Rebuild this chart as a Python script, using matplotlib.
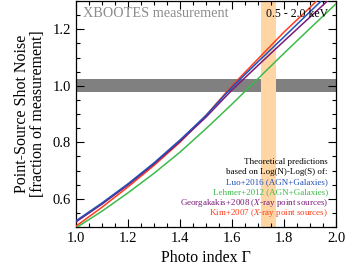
import numpy as np
import matplotlib
matplotlib.use('Agg')
import matplotlib.pyplot as plt
from matplotlib.ticker import MultipleLocator

plt.rcParams['font.family'] = ['Liberation Serif', 'DejaVu Serif']
plt.rcParams['mathtext.fontset'] = 'stix'

# photon index grid and predicted shot noise (fraction of measurement)
gamma = [1.0, 1.1, 1.2, 1.3, 1.4, 1.5, 1.6, 1.7, 1.8, 1.9, 2.0]
luo = [0.522, 0.585, 0.653, 0.727, 0.808, 0.895, 0.995, 1.085, 1.173, 1.262, 1.350]
lehmer = [0.497, 0.556, 0.621, 0.690, 0.765, 0.848, 0.935, 1.025, 1.115, 1.203, 1.290]
georgakakis = [0.518, 0.581, 0.649, 0.723, 0.803, 0.889, 0.985, 1.072, 1.158, 1.243, 1.328]
kim = [0.503, 0.570, 0.642, 0.718, 0.800, 0.895, 1.000, 1.095, 1.190, 1.277, 1.370]

meas_lo, meas_hi = 0.977, 1.023
gamma_lo, gamma_hi = 1.71, 1.77

c_luo = '#2050b8'
c_lehmer = '#3dba4a'
c_geo = '#7a1a7a'
c_kim = '#ff3d1c'

fig = plt.figure(figsize=(3.46, 2.77), dpi=100)
ax = fig.add_axes([76/346, 1-227/277, 260/346, 226/277])

ax.axhspan(meas_lo, meas_hi, color='#808080', lw=0, zorder=1)
ax.axvspan(gamma_lo, gamma_hi, color='#ffd6a3', lw=0, zorder=1)

ax.plot(gamma, kim, color=c_kim, lw=1.1, zorder=3)
ax.plot(gamma, lehmer, color=c_lehmer, lw=1.1, zorder=3)
ax.plot(gamma, georgakakis, color=c_geo, lw=1.1, zorder=3)
ax.plot(gamma, luo, color=c_luo, lw=1.1, zorder=4)

ax.set_xlim(1.0, 2.0)
ax.set_ylim(0.5, 1.3)
ax.xaxis.set_major_locator(MultipleLocator(0.2))
ax.xaxis.set_minor_locator(MultipleLocator(0.05))
ax.yaxis.set_major_locator(MultipleLocator(0.2))
ax.yaxis.set_minor_locator(MultipleLocator(0.05))
ax.tick_params(which='both', direction='in', top=True, right=True, width=0.8)
ax.tick_params(which='major', length=6, labelsize=10.5)
ax.tick_params(which='minor', length=3)
for s in ax.spines.values():
    s.set_linewidth(0.9)

ax.set_xlabel('Photo index \u0393', fontsize=11.5, labelpad=4)
ax.set_ylabel('Point-Source Shot Noise\n[fraction of measurement]', fontsize=11.5,
              linespacing=0.95, labelpad=5)

ax.text(0.027, 0.943, 'XBOOTES measurement', transform=ax.transAxes, color='#8c8c8c',
        fontsize=10.3, ha='left', va='center', zorder=5)
ax.text(0.969, 0.943, '0.5 - 2.0 keV', transform=ax.transAxes, color='black',
        fontsize=8.5, ha='right', va='center', zorder=5)

notes = [('Theoretical predictions', 'black', 0.288),
         ('based on Log(N)-Log(S) of:', 'black', 0.245),
         ('Luo+2016 (AGN+Galaxies)', c_luo, 0.200),
         ('Lehmer+2012 (AGN+Galaxies)', c_lehmer, 0.154),
         ('Georgakakis+2008 ($X$-ray point sources)', c_geo, 0.108),
         ('Kim+2007 ($X$-ray point sources)', c_kim, 0.060)]
for txt, col, yy in notes:
    ax.text(0.969, yy, txt, transform=ax.transAxes, color=col, fontsize=6.5,
            ha='right', va='center', zorder=5)

fig.savefig('out.png', dpi=100)
